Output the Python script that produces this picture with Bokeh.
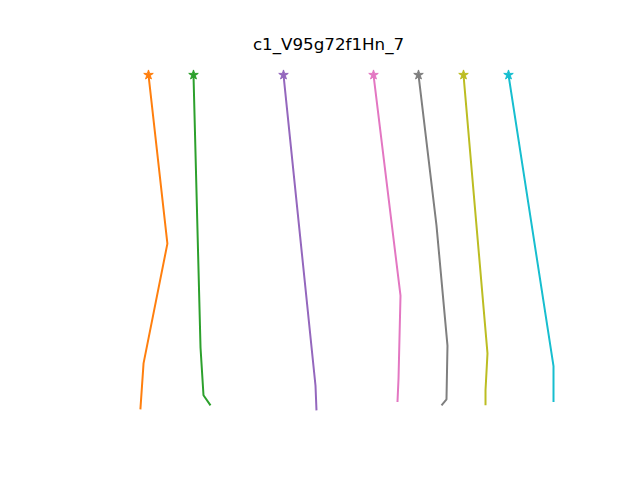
from bokeh.plotting import figure
from bokeh.models import Range1d
from bokeh.embed import file_html
from bokeh.resources import INLINE

title_text = "c1_V95g72f1Hn_7"

# profiles: x values (offset by series index) and y levels (0 = top)
orange_x = [1.0, 1.42, 0.89, 0.82]
orange_y = [0.0, 0.503, 0.86, 0.997]
green_x = [2.0, 2.156, 2.222, 2.378]
green_y = [0.0, 0.8125, 0.955, 0.985]
purple_x = [4.0, 4.711, 4.733]
purple_y = [0.0, 0.926, 1.0]
pink_x = [6.0, 6.6, 6.556, 6.533]
pink_y = [0.0, 0.658, 0.905, 0.975]
gray_x = [7.0, 7.4, 7.644, 7.622, 7.511]
gray_y = [0.0, 0.449, 0.807, 0.967, 0.985]
olive_x = [8.0, 8.533, 8.489, 8.489]
olive_y = [0.0, 0.830, 0.940, 0.985]
cyan_x = [9.0, 10.0, 10.0]
cyan_y = [0.0, 0.868, 0.975]

series = [
    (orange_x, orange_y, "#ff7f0e"),
    (green_x, green_y, "#2ca02c"),
    (purple_x, purple_y, "#9467bd"),
    (pink_x, pink_y, "#e377c2"),
    (gray_x, gray_y, "#7f7f7f"),
    (olive_x, olive_y, "#bcbd22"),
    (cyan_x, cyan_y, "#17becf"),
]

p = figure(width=640, height=480, output_backend="svg", toolbar_location=None,
           x_range=Range1d(-0.511, 10.511), y_range=Range1d(1.051, -0.049),
           min_border_left=80, min_border_right=64, min_border_top=58, min_border_bottom=53,
           title=title_text)
p.axis.visible = False
p.grid.visible = False
p.outline_line_color = None
p.background_fill_color = "white"
p.border_fill_color = "white"
p.title.align = "center"
p.title.text_font = "DejaVu Sans"
p.title.text_font_size = "16.7px"
p.title.text_font_style = "normal"
p.title.text_color = "black"

for xs, ys, c in series:
    p.line(xs, ys, line_color=c, line_width=2)
    p.scatter([xs[0]], [ys[0]], marker="star", size=10, fill_color=c, line_color=c)

open("out.html", "w").write(file_html(p, INLINE))
